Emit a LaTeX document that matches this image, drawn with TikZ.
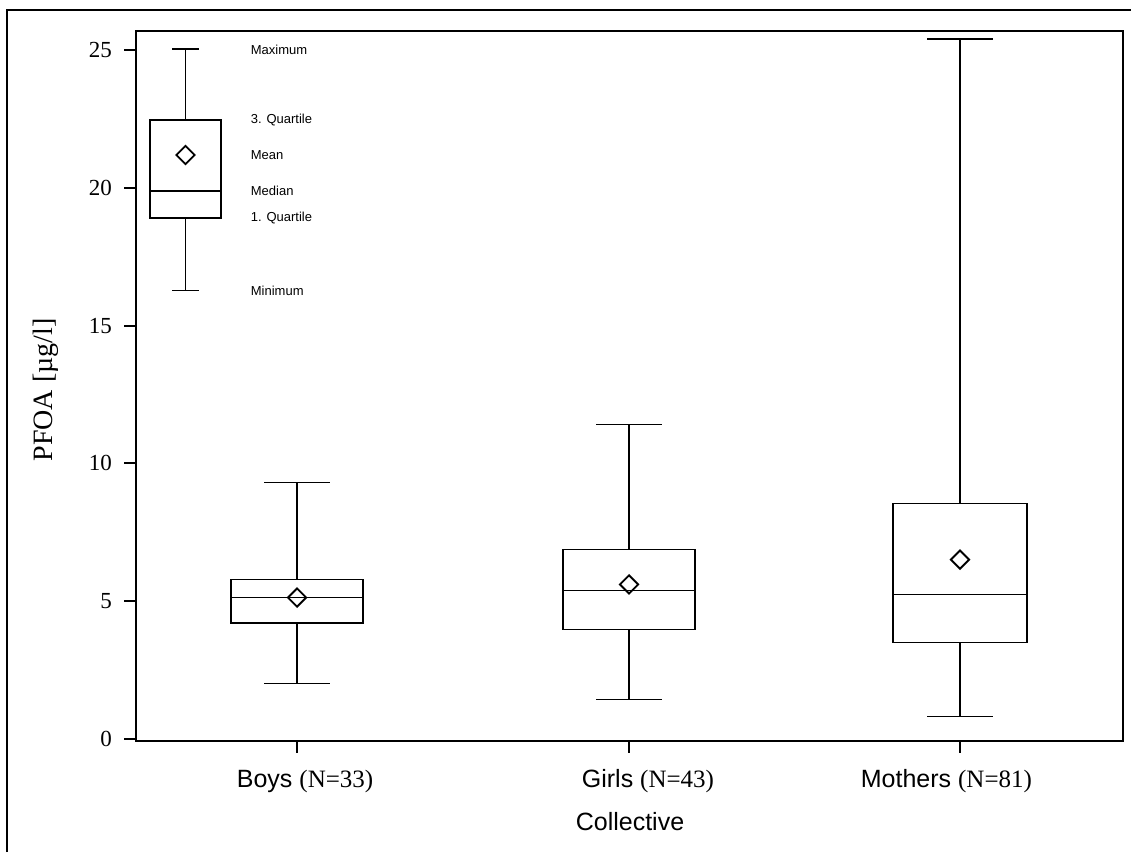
\documentclass[tikz,border=0pt]{standalone}
\usepackage{fontspec}
\setmainfont{Liberation Serif}
\setsansfont{Liberation Sans}
\usetikzlibrary{shapes.geometric}
\newcommand{\tickfont}{\fontsize{23}{25}\selectfont}
\newcommand{\catfont}{\fontsize{25}{27}\selectfont}
\newcommand{\keyfont}{\fontsize{13}{15}\selectfont\sffamily}
\tikzset{meanmark/.style={draw, diamond, inner sep=0pt, minimum width=19pt, minimum height=19pt, line width=1.8pt}}

\begin{document}
\begin{tikzpicture}[x=1pt,y=1pt,line width=1.8pt]
  \useasboundingbox (0,0) rectangle (1131,852);
  \draw[line width=1.6pt] (7,0) -- (7,842) -- (1131,842); % cadre externe
  \draw[line width=2.3pt] (136,111) rectangle (1123,821);
  \begin{scope}[shift={(0,113.5)}, y=27.52pt]
    \foreach \v in {0,5,...,25}{
      \draw[line width=2pt] (124,\v) -- (136,\v);
      \node[anchor=east, font=\tickfont] (tick\v) at (116,\v) {\v};
    }
    \foreach \n/\cx/\cw/\bw/\lo/\qa/\md/\qc/\hi/\mn in {
      key/185.5/13.5/35.5/16.28/18.9/19.9/22.47/25.04/21.2,
      boys/297/33/66/2.0/4.2/5.12/5.78/9.3/5.12,
      girls/629/33/66/1.42/3.96/5.38/6.87/11.41/5.6,
      moms/960/33/67/0.8/3.49/5.23/8.54/25.42/6.5}{
      \draw (\cx-\bw,\qa) rectangle (\cx+\bw,\qc);
      \draw (\cx-\bw,\md) -- (\cx+\bw,\md); % mediane
      \draw (\cx,\qc) -- (\cx,\hi) (\cx-\cw,\hi) -- (\cx+\cw,\hi);
      \draw (\cx,\qa) -- (\cx,\lo) (\cx-\cw,\lo) -- (\cx+\cw,\lo);
      \node[meanmark] (mean-\n) at (\cx,\mn) {};
    }
    \foreach \v/\lab [count=\i] in {25.02/Maximum, 22.47/3. Quartile, 21.2/Mean,
      19.9/Median, 18.9/1. Quartile, 16.28/Minimum}{
      \node[anchor=west, font=\keyfont, inner sep=0pt] (keylab\i) at (250,\v) {\lab};
    }
  \end{scope}
  \foreach \cx in {297,629,960}{
    \draw[line width=2pt] (\cx,111) -- (\cx,99);
  }
  \node[anchor=base west, font=\catfont, inner sep=0pt] (boyslab) at (236,65) {\sffamily Boys \rmfamily(N=33)};
  \node[anchor=base west, font=\catfont, inner sep=0pt] (girlslab) at (581,65) {\sffamily Girls \rmfamily(N=43)};
  \node[anchor=base west, font=\catfont, inner sep=0pt] (momslab) at (860,65) {\sffamily Mothers \rmfamily(N=81)};
  \node[font=\sffamily\fontsize{25}{27}\selectfont] (xlabel) at (630,30) {Collective};
  \node[rotate=90, font=\fontsize{28}{30}\selectfont] (ylabel) at (46,462) {PFOA [µg/l]};
\end{tikzpicture}
\end{document}
